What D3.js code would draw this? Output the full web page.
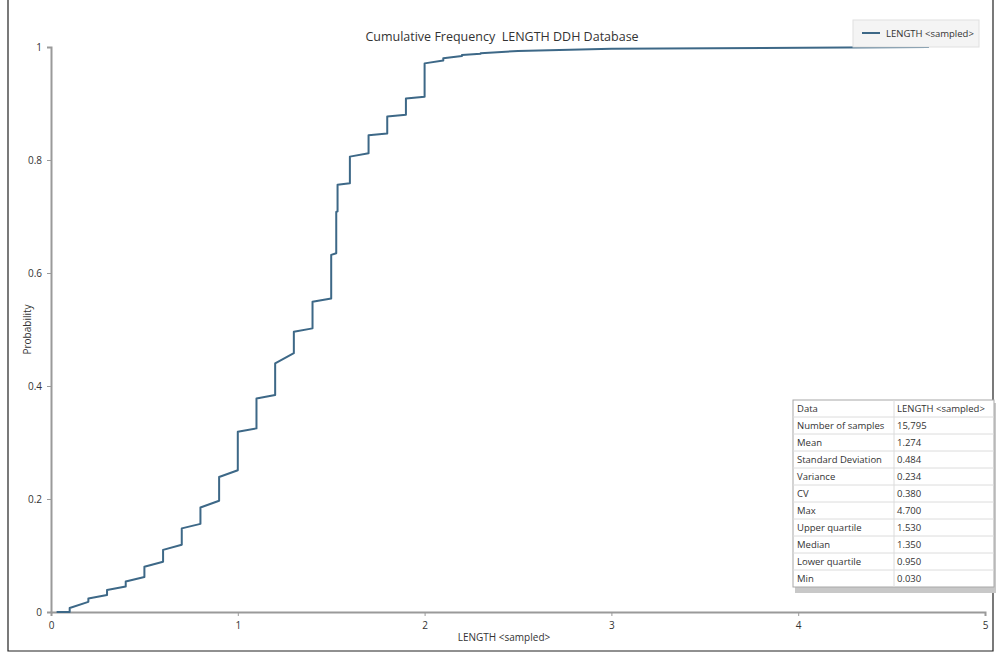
<!DOCTYPE html>
<html>
<head>
<meta charset="utf-8">
<script src="https://cdn.jsdelivr.net/npm/d3@7"></script>
<style>
  html, body { margin: 0; padding: 0; background: #fff; }
  svg { display: block; font-family: "Open Sans", "Noto Sans", sans-serif; }
</style>
</head>
<body>
<svg id="chart" width="997" height="657"></svg>
<script>
// Cumulative frequency of sampled drillhole interval lengths.
// Lengths cluster on 0.1 m increments, so the curve climbs in steps:
// at each stepX the probability jumps from stepLow to stepHigh.
const minLength = 0.03;
const stepX    = [0.10, 0.20, 0.30, 0.40, 0.50, 0.60, 0.70, 0.80, 0.90, 1.00, 1.10, 1.20, 1.30, 1.40, 1.50, 1.527, 1.534, 1.60, 1.70, 1.80, 1.90, 2.00, 2.10, 2.20, 2.30];
const stepLow  = [0.000, 0.018, 0.030, 0.045, 0.062, 0.089, 0.119, 0.156, 0.197, 0.251, 0.325, 0.384, 0.458, 0.502, 0.555, 0.635, 0.709, 0.759, 0.812, 0.847, 0.880, 0.912, 0.976, 0.984, 0.988];
const stepHigh = [0.007, 0.024, 0.039, 0.054, 0.080, 0.110, 0.148, 0.185, 0.239, 0.319, 0.378, 0.440, 0.496, 0.549, 0.632, 0.708, 0.756, 0.806, 0.844, 0.877, 0.909, 0.971, 0.980, 0.986, 0.989];
// Sparse long intervals beyond 2.3 m
const tailX = [2.50, 3.00, 4.70];
const tailP = [0.993, 0.997, 1.000];

const xTicks = [0, 1, 2, 3, 4, 5];
const yTicks = [0, 0.2, 0.4, 0.6, 0.8, 1];

const statLabels = ["Number of samples", "Mean", "Standard Deviation", "Variance", "CV", "Max", "Upper quartile", "Median", "Lower quartile", "Min"];
const statValues = ["15,795", "1.274", "0.484", "0.234", "0.380", "4.700", "1.530", "1.350", "0.950", "0.030"];

const seriesName = "LENGTH <sampled>";
const lineColor = "#3d6887";

const svg = d3.select("#chart");
const margin = { left: 51, right: 12, top: 47, bottom: 45 };
const W = 997, H = 657;

const x = d3.scaleLinear().domain([0, 5]).range([margin.left, W - margin.right]);
const y = d3.scaleLinear().domain([0, 1]).range([H - margin.bottom, margin.top]);

// outer frame
svg.append("path")
  .attr("d", `M8,0 V651 H993 V0`)
  .attr("fill", "none").attr("stroke", "#222").attr("stroke-width", 1.2);

// title
svg.append("text")
  .attr("x", 502).attr("y", 41)
  .attr("text-anchor", "middle")
  .style("white-space", "pre")
  .attr("font-size", 12.5).attr("fill", "#333")
  .text("Cumulative Frequency  LENGTH DDH Database");

// axes
const xAxis = d3.axisBottom(x).tickValues(xTicks).tickSize(4).tickPadding(6).tickFormat(d3.format("d"));
const yAxis = d3.axisLeft(y).tickValues(yTicks).tickSize(4).tickPadding(5).tickFormat(d => d === 0 || d === 1 ? d3.format("d")(d) : d3.format(".1f")(d));

const gx = svg.append("g").attr("transform", `translate(0,${y(0)})`).call(xAxis);
const gy = svg.append("g").attr("transform", `translate(${x(0)},0)`).call(yAxis);
[gx, gy].forEach(g => {
  g.select(".domain").attr("stroke", "#9a9a9a").attr("stroke-width", 2);
  g.selectAll(".tick line").attr("stroke", "#9a9a9a");
  g.selectAll(".tick text").attr("fill", "#333").attr("font-size", 10).attr("font-family", "\"Open Sans\", sans-serif");
});

// axis titles
svg.append("text")
  .attr("x", x(2.5) - 14).attr("y", 641)
  .attr("text-anchor", "middle").attr("font-size", 10).attr("fill", "#333")
  .text(seriesName);
svg.append("text")
  .attr("transform", `translate(31,${y(0.5)}) rotate(-90)`)
  .attr("text-anchor", "middle").attr("font-size", 10).attr("fill", "#333")
  .text("Probability");

// build the cumulative curve
const pts = [[minLength, 0]];
stepX.forEach((sx, i) => { pts.push([sx, stepLow[i]]); pts.push([sx, stepHigh[i]]); });
tailX.forEach((tx, i) => pts.push([tx, tailP[i]]));

const line = d3.line().x(d => x(d[0])).y(d => y(d[1]));
svg.append("path")
  .datum(pts)
  .attr("d", line)
  .attr("fill", "none")
  .attr("stroke", lineColor)
  .attr("stroke-width", 2)
  .attr("stroke-linejoin", "round");

// legend
const lg = svg.append("g").attr("transform", "translate(853,20)");
lg.append("rect").attr("width", 126).attr("height", 27)
  .attr("fill", "#f4f4f4").attr("stroke", "#e0e0e0");
lg.append("line").attr("x1", 9).attr("x2", 27).attr("y1", 13).attr("y2", 13)
  .attr("stroke", lineColor).attr("stroke-width", 2);
lg.append("text").attr("x", 33).attr("y", 17)
  .attr("font-size", 9.5).attr("fill", "#333").text(seriesName);

// statistics table
const tx0 = 793, ty0 = 400, rowH = 17, col1 = 101, col2 = 100;
const tbl = svg.append("g");
const rows = [["Data", seriesName]].concat(statLabels.map((l, i) => [l, statValues[i]]));
// drop shadow
tbl.append("rect").attr("x", tx0 + 2).attr("y", ty0 + 3)
  .attr("width", col1 + col2).attr("height", rows.length * rowH + 3)
  .attr("fill", "#c8c8c8");
tbl.append("rect").attr("x", tx0).attr("y", ty0)
  .attr("width", col1 + col2).attr("height", rows.length * rowH)
  .attr("fill", "#fff").attr("stroke", "#a8a8a8");
rows.forEach((r, i) => {
  const ry = ty0 + i * rowH;
  if (i > 0) tbl.append("line").attr("x1", tx0).attr("x2", tx0 + col1 + col2)
    .attr("y1", ry).attr("y2", ry).attr("stroke", "#dcdcdc");
  tbl.append("text").attr("x", tx0 + 4).attr("y", ry + 12)
    .attr("font-size", 9.5).attr("fill", "#333").text(r[0]);
  tbl.append("text").attr("x", tx0 + col1 + 3).attr("y", ry + 12)
    .attr("font-size", 9.5).attr("fill", "#333").text(r[1]);
});
tbl.append("line").attr("x1", tx0 + col1).attr("x2", tx0 + col1)
  .attr("y1", ty0).attr("y2", ty0 + rows.length * rowH).attr("stroke", "#dcdcdc");
</script>
</body>
</html>
